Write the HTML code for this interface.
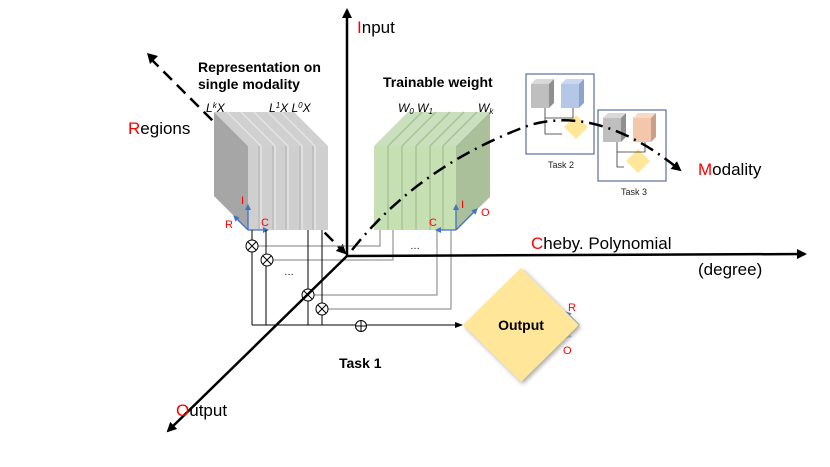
<!DOCTYPE html><html><head><style>body{margin:0;background:#fff}svg{display:block}text{font-family:"Liberation Sans",sans-serif}</style></head><body>
<svg width="830" height="467" viewBox="0 0 830 467" xmlns="http://www.w3.org/2000/svg">
<defs>
<marker id="ah" markerWidth="10" markerHeight="10" refX="8" refY="5" orient="auto" markerUnits="userSpaceOnUse"><path d="M0,0L10,5L0,10z" fill="#000"/></marker>
<marker id="sa" markerWidth="8" markerHeight="8" refX="7" refY="4" orient="auto" markerUnits="userSpaceOnUse"><path d="M0,1L8,4L0,7z" fill="#000"/></marker>
<marker id="ba" markerWidth="6" markerHeight="6" refX="5" refY="3" orient="auto" markerUnits="userSpaceOnUse"><path d="M0,0L6,3L0,6z" fill="#4472c4"/></marker>
</defs>
<!-- regions axis (behind cube) -->
<line x1="150" y1="58" x2="345" y2="253" stroke="#000" stroke-width="2.5" stroke-dasharray="12,7" marker-end="url(#ah)"/>
<path d="M147,53 L158,56 L150,64z" fill="#000"/>
<!-- gray cube -->
<polygon points="214,112 248,146 248,230 214,196" fill="#a6a6a6"/>
<polygon points="214,112 294,112 328,146 248,146" fill="#d0d0d0"/>
<rect x="248" y="146" width="80" height="84" fill="#cfcfcf"/>
<g stroke="#e4e4e4" stroke-width="1.5">
<line x1="261" y1="146" x2="261" y2="230"/><line x1="275" y1="146" x2="275" y2="230"/><line x1="288" y1="146" x2="288" y2="230"/><line x1="302" y1="146" x2="302" y2="230"/><line x1="315" y1="146" x2="315" y2="230"/>
<line x1="261" y1="146" x2="227" y2="112"/><line x1="275" y1="146" x2="241" y2="112"/><line x1="288" y1="146" x2="254" y2="112"/><line x1="302" y1="146" x2="268" y2="112"/><line x1="315" y1="146" x2="281" y2="112"/>
</g>
<g stroke="#b0b0b0" stroke-width="1">
<line x1="259" y1="146" x2="259" y2="230"/><line x1="273" y1="146" x2="273" y2="230"/><line x1="286" y1="146" x2="286" y2="230"/><line x1="300" y1="146" x2="300" y2="230"/><line x1="313" y1="146" x2="313" y2="230"/>
</g>
<!-- green cube -->
<polygon points="456,146 490,112 490,197 456,230" fill="#a9c09a"/>
<polygon points="374,146 408,112 490,112 456,146" fill="#c9dfbd"/>
<rect x="374" y="146" width="82" height="84" fill="#c6e0b4"/>
<g stroke="#a8c496" stroke-width="1.5">
<line x1="388" y1="146" x2="388" y2="230"/><line x1="402" y1="146" x2="402" y2="230"/><line x1="416" y1="146" x2="416" y2="230"/><line x1="430" y1="146" x2="430" y2="230"/><line x1="443" y1="146" x2="443" y2="230"/>
<line x1="388" y1="146" x2="422" y2="112"/><line x1="402" y1="146" x2="436" y2="112"/><line x1="416" y1="146" x2="450" y2="112"/><line x1="430" y1="146" x2="464" y2="112"/><line x1="443" y1="146" x2="477" y2="112"/>
</g>
<!-- blue RIC axes -->
<g stroke="#4472c4" stroke-width="1.3" fill="none">
<line x1="248" y1="230" x2="248" y2="205" marker-end="url(#ba)"/>
<line x1="248" y1="230" x2="268" y2="230" marker-end="url(#ba)"/>
<line x1="248" y1="230" x2="234" y2="216" marker-end="url(#ba)"/>
<line x1="456" y1="230" x2="456" y2="205" marker-end="url(#ba)"/>
<line x1="456" y1="230" x2="436" y2="230" marker-end="url(#ba)"/>
<line x1="456" y1="230" x2="477" y2="209" marker-end="url(#ba)"/>
<line x1="579" y1="325" x2="566" y2="312" marker-end="url(#ba)"/>
<line x1="579" y1="325" x2="566" y2="338" marker-end="url(#ba)"/>
</g>
<g font-size="11" fill="#ff0000">
<text x="241" y="204">I</text><text x="261" y="226">C</text><text x="225" y="228">R</text>
<text x="461" y="208">I</text><text x="429" y="226">C</text><text x="481" y="216">O</text>
<text x="568" y="311">R</text><text x="563" y="354">O</text>
</g>
<!-- connector lines -->
<g stroke="#7f7f7f" stroke-width="1" fill="none">
<polyline points="258,246 380,246 380,230"/>
<polyline points="273,260 393,260 393,230"/>
<polyline points="314,295 437,295 437,230"/>
<polyline points="328,309 451,309 451,230"/>
</g>
<g stroke="#000" stroke-width="1" fill="none">
<line x1="252" y1="230" x2="252" y2="325"/><line x1="266" y1="230" x2="266" y2="325"/>
<line x1="308" y1="230" x2="308" y2="325"/><line x1="322" y1="230" x2="322" y2="325"/>
<line x1="252" y1="325" x2="462" y2="325" marker-end="url(#sa)"/>
</g>
<g stroke="#000" stroke-width="1" fill="#fff">
<circle cx="252" cy="246" r="6"/><circle cx="267" cy="260" r="6"/><circle cx="308" cy="295" r="6"/><circle cx="322" cy="309" r="6"/><circle cx="361" cy="326" r="5.5"/>
<path d="M248,242L256,250M256,242L248,250M263,256L271,264M271,256L263,264M304,291L312,299M312,291L304,299M318,305L326,313M326,305L318,313M355.5,326h11M361,320.5v11" fill="none"/>
</g>
<text x="284" y="275" font-size="10">…</text><text x="410" y="249" font-size="10">…</text>
<!-- axes -->
<g stroke="#000" stroke-width="2.5" fill="none">
<line x1="347" y1="257" x2="347" y2="10" marker-end="url(#ah)"/>
<line x1="347" y1="256" x2="805" y2="254" marker-end="url(#ah)"/>
<line x1="347" y1="256" x2="168" y2="431" marker-end="url(#ah)"/>
</g>
<!-- output diamond -->
<polygon points="521,268 579,325 521,382 463,325" fill="#ffe699" style="filter:drop-shadow(2px 2px 2px #aaa)"/>
<text x="521" y="330" font-size="14" font-weight="bold" text-anchor="middle">Output</text>
<!-- tasks -->
<rect x="526" y="74" width="68" height="80" fill="#fff" stroke="#5a6e9a" stroke-width="1.2"/>
<rect x="598" y="110" width="68" height="71" fill="#fff" stroke="#5a6e9a" stroke-width="1.2"/>
<polygon points="531,84 536,79 554,79 549,84" fill="#d8d8d8"/><polygon points="549,84 554,79 554,103 549,108" fill="#8f8f8f"/>
<rect x="531" y="84" width="18" height="24" fill="#bfbfbf"/>
<polygon points="561,84 566,79 584,79 579,84" fill="#c9d6ee"/><polygon points="579,84 584,79 584,103 579,108" fill="#8ea3c8"/>
<rect x="561" y="84" width="18" height="24" fill="#b4c7e7"/>
<polygon points="603,118 608,113 626,113 621,118" fill="#d8d8d8"/><polygon points="621,118 626,113 626,137 621,142" fill="#8f8f8f"/>
<rect x="603" y="118" width="18" height="24" fill="#bfbfbf"/>
<polygon points="633,118 638,113 656,113 651,118" fill="#f8d9c6"/><polygon points="651,118 656,113 656,137 651,142" fill="#c9a08a"/>
<rect x="633" y="118" width="18" height="24" fill="#f4c7ac"/>
<polygon points="576,115 588,127 576,139 564,127" fill="#ffe699"/>
<polygon points="638,149 650,161 638,173 626,161" fill="#ffe699"/>
<g stroke="#333" fill="none" stroke-width="0.8"><polyline points="545,108 545,134 562,134"/><polyline points="573,108 573,118 545,118"/><polyline points="617,142 617,167 624,167"/><polyline points="645,142 645,152 617,152"/></g>
<g font-size="9" fill="#222"><text x="548" y="168">Task 2</text><text x="621" y="195">Task 3</text></g>
<!-- modality curve on top -->
<path d="M352,250 Q420,165 530,125 Q600,105 680,170" stroke="#000" stroke-width="2.5" fill="none" stroke-dasharray="14,6,2,6" marker-end="url(#ah)"/>
<!-- labels -->
<g font-size="17">
<text x="357" y="33"><tspan fill="#ff0000">I</tspan>nput</text>
<text x="128" y="134"><tspan fill="#ff0000">R</tspan>egions</text>
<text x="698" y="175"><tspan fill="#ff0000">M</tspan>odality</text>
<text x="531" y="249"><tspan fill="#ff0000">C</tspan>heby. Polynomial</text>
<text x="698" y="275">(degree)</text>
<text x="176" y="416"><tspan fill="#ff0000">O</tspan>utput</text>
</g>
<g font-size="14" font-weight="bold"><text x="198" y="72">Representation on</text><text x="198" y="89">single modality</text><text x="383" y="87">Trainable weight</text><text x="339" y="368">Task 1</text></g>
<g font-size="12" font-style="italic" font-family="Liberation Serif"><text x="206" y="112">L<tspan dy="-4" font-size="8">k</tspan><tspan dy="4">X</tspan></text>
<text x="269" y="112">L<tspan dy="-4" font-size="8">1</tspan><tspan dy="4">X L</tspan><tspan dy="-4" font-size="8">0</tspan><tspan dy="4">X</tspan></text>
<text x="398" y="112">W<tspan font-size="8" dy="2">0</tspan><tspan dy="-2"> W</tspan><tspan font-size="8" dy="2">1</tspan></text>
<text x="478" y="112">W<tspan font-size="8" dy="2">k</tspan></text></g>
</svg></body></html>
